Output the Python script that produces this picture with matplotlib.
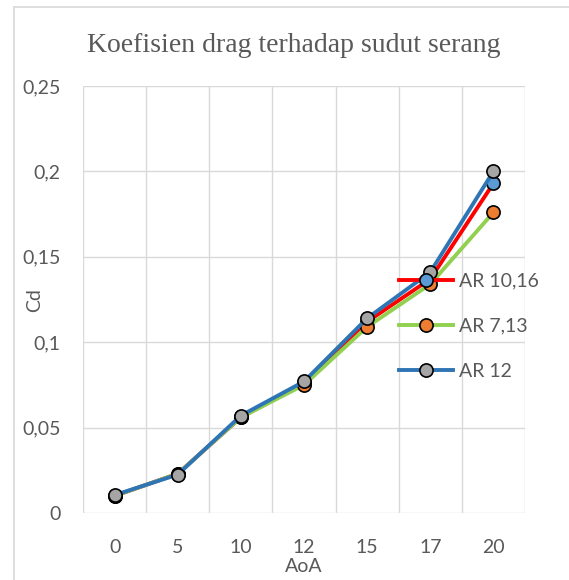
#!/usr/bin/env python3

import matplotlib
matplotlib.use("Agg")
import matplotlib.pyplot as plt
from matplotlib.lines import Line2D

# ---- data ----
aoa_labels = ["0", "5", "10", "12", "15", "17", "20"]
cd_ar_1016 = [0.010, 0.023, 0.056, 0.076, 0.112, 0.137, 0.193]
cd_ar_713 = [0.010, 0.023, 0.056, 0.075, 0.109, 0.134, 0.176]
cd_ar_12 = [0.0105, 0.0225, 0.057, 0.077, 0.114, 0.141, 0.200]
yticks = [0, 0.05, 0.10, 0.15, 0.20, 0.25]
ytick_labels = ["0", "0,05", "0,1", "0,15", "0,2", "0,25"]

series = [
    ("AR 10,16", cd_ar_1016, "#FF0000", "#5B9BD5"),
    ("AR 7,13", cd_ar_713, "#92D050", "#ED7D31"),
    ("AR 12", cd_ar_12, "#2E75B6", "#A5A5A5"),
]

grid_c = "#D9D9D9"
text_c = "#595959"
sans = ["Lato", "DejaVu Sans"]
fs = 14

fig = plt.figure(figsize=(5.69, 5.80), dpi=100)
ax = fig.add_axes([83 / 569, 1 - 513 / 580, 442 / 569, 427 / 580])

x = list(range(len(aoa_labels)))
for name, vals, lc, mc in series:
    ax.plot(x, vals, color=lc, lw=2.8, marker="o", ms=9.5,
            mfc=mc, mec="black", mew=1.2, label=name, zorder=3)

ax.set_xlim(-0.5, len(aoa_labels) - 0.5)
ax.set_ylim(0, 0.25)
ax.set_yticks(yticks)
ax.set_yticklabels(ytick_labels)
ax.set_xticks(x)
ax.set_xticklabels(aoa_labels)

# gridlines between categories like the original chart
for b in range(len(aoa_labels) + 1):
    ax.axvline(b - 0.5, color=grid_c, lw=1.0, zorder=1)
for t in yticks:
    ax.axhline(t, color=grid_c, lw=1.0, zorder=1)
for sp in ax.spines.values():
    sp.set_visible(False)

ax.tick_params(length=0, labelsize=fs, labelcolor=text_c)
ax.tick_params(axis="x", pad=19)
ax.tick_params(axis="y", pad=16)
for lab in ax.get_xticklabels() + ax.get_yticklabels():
    lab.set_fontfamily(sans)

ax.set_xlabel("AoA", fontsize=fs, color=text_c, family=sans, labelpad=1)
fig.text(35 / 569, 1 - 300 / 580, "Cd", rotation=90, ha="center",
         va="center", fontsize=fs, color=text_c, family=sans)

fig.text(294 / 569, 1 - 45 / 580, "Koefisien drag terhadap sudut serang",
         ha="center", va="center", fontsize=20, color=text_c,
         family="Liberation Serif")

leg = ax.legend(loc="upper left", bbox_to_anchor=(0.675, 0.604),
                frameon=False, handlelength=2.8, handletextpad=0.3,
                labelspacing=1.44, prop={"family": sans, "size": fs})
for t in leg.get_texts():
    t.set_color(text_c)

# chart area border
fig.add_artist(Line2D([14 / 569, 14 / 569], [0, 1 - 7 / 580],
                      transform=fig.transFigure, color=grid_c, lw=1.2))
fig.add_artist(Line2D([14 / 569, 1], [1 - 7 / 580, 1 - 7 / 580],
                      transform=fig.transFigure, color=grid_c, lw=1.2))

fig.savefig("out.png", dpi=100)
